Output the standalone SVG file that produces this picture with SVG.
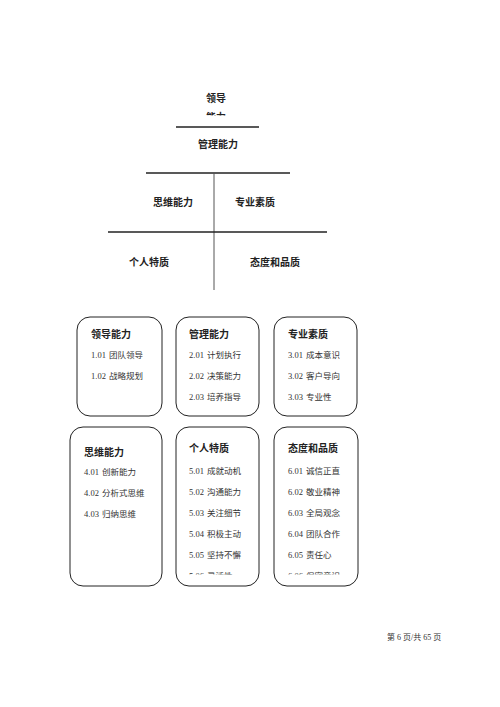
<svg xmlns="http://www.w3.org/2000/svg" width="500" height="707" viewBox="0 0 500 707">
<style>
.h{font-family:"Noto Sans CJK SC","Liberation Sans",sans-serif;font-size:10px;font-weight:bold;fill:#222}
.i{font-family:"Liberation Serif","Noto Sans CJK SC",serif;font-size:8.5px;fill:#333;word-spacing:1px}
.f{font-family:"Liberation Serif","Noto Sans CJK SC",serif;font-size:8px;fill:#333}
.ln{stroke:#222;stroke-width:1.5;fill:none}
.vl{stroke:#555;stroke-width:1;fill:none}
.bx{fill:#fff;stroke:#222;stroke-width:1}
</style>
<defs>
<clipPath id="c0"><rect x="150" y="108" width="140" height="7.5"/></clipPath>
<clipPath id="c5"><rect x="170" y="560" width="100" height="14.5"/></clipPath>
<clipPath id="c6"><rect x="270" y="560" width="100" height="14.5"/></clipPath>
</defs>
<rect width="500" height="707" fill="#fff"/>
<g id="connectors">
<line class="ln" x1="176" y1="127" x2="259" y2="127"/>
<line class="ln" x1="146" y1="173" x2="290" y2="173"/>
<line class="vl" x1="214" y1="173" x2="214" y2="290"/>
<line class="ln" x1="108" y1="232" x2="327" y2="232"/>
</g>
<g id="top">
<text class="h" x="216" y="102" text-anchor="middle">领导</text>
<text class="h" x="216" y="121" text-anchor="middle" clip-path="url(#c0)">能力</text>
<text class="h" x="218" y="148" text-anchor="middle">管理能力</text>
<text class="h" x="173" y="206" text-anchor="middle">思维能力</text>
<text class="h" x="255" y="206" text-anchor="middle">专业素质</text>
<text class="h" x="149" y="266" text-anchor="middle">个人特质</text>
<text class="h" x="275" y="266" text-anchor="middle">态度和品质</text>
</g>
<g id="box1">
<rect class="bx" x="77" y="317" width="85" height="99" rx="13"/>
<text class="h" x="91" y="338">领导能力</text>
<text class="i" x="91" y="358">1.01 团队领导</text>
<text class="i" x="91" y="379">1.02 战略规划</text>
</g>
<g id="box2">
<rect class="bx" x="176" y="317" width="83" height="99" rx="13"/>
<text class="h" x="189" y="338">管理能力</text>
<text class="i" x="189" y="358">2.01 计划执行</text>
<text class="i" x="189" y="379">2.02 决策能力</text>
<text class="i" x="189" y="400">2.03 培养指导</text>
</g>
<g id="box3">
<rect class="bx" x="274" y="317" width="83" height="99" rx="13"/>
<text class="h" x="288" y="338">专业素质</text>
<text class="i" x="288" y="358">3.01 成本意识</text>
<text class="i" x="288" y="379">3.02 客户导向</text>
<text class="i" x="288" y="400">3.03 专业性</text>
</g>
<g id="box4">
<rect class="bx" x="70" y="427" width="92" height="159" rx="13"/>
<text class="h" x="84" y="456">思维能力</text>
<text class="i" x="84" y="475">4.01 创新能力</text>
<text class="i" x="84" y="496">4.02 分析式思维</text>
<text class="i" x="84" y="517">4.03 归纳思维</text>
</g>
<g id="box5">
<rect class="bx" x="176" y="427" width="83" height="159" rx="13"/>
<text class="h" x="189" y="452">个人特质</text>
<text class="i" x="189" y="474">5.01 成就动机</text>
<text class="i" x="189" y="495">5.02 沟通能力</text>
<text class="i" x="189" y="516">5.03 关注细节</text>
<text class="i" x="189" y="537">5.04 积极主动</text>
<text class="i" x="189" y="558">5.05 坚持不懈</text>
<text class="i" x="189" y="579" clip-path="url(#c5)">5.06 灵活性</text>
</g>
<g id="box6">
<rect class="bx" x="274" y="427" width="84" height="159" rx="13"/>
<text class="h" x="288" y="452">态度和品质</text>
<text class="i" x="288" y="474">6.01 诚信正直</text>
<text class="i" x="288" y="495">6.02 敬业精神</text>
<text class="i" x="288" y="516">6.03 全局观念</text>
<text class="i" x="288" y="537">6.04 团队合作</text>
<text class="i" x="288" y="558">6.05 责任心</text>
<text class="i" x="288" y="579" clip-path="url(#c6)">6.06 保密意识</text>
</g>
<text class="f" x="387" y="640">第 6 页/共 65 页</text>
</svg>
